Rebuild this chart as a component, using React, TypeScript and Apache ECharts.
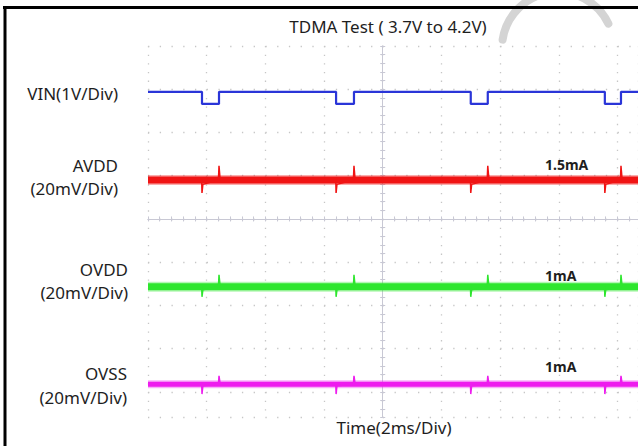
import React, { useEffect, useRef } from "react";
import * as echarts from "echarts";

// ---------- data ----------
const TITLE = "TDMA Test ( 3.7V to 4.2V)";
const X_LABEL = "Time(2ms/Div)";
const VIN_LABEL = "VIN(1V/Div)";

// x in milliseconds (2 ms / division), y in divisions counted from the top graticule line
const timeMinMs = 0;
const timeMaxMs = 16.7;
const timeDivMs = 2;
const divMin = 0;
const divMax = 8.58;
const centerTimeMs = 8;
const centerDiv = 4;

// VIN: TDMA burst pulses (1V/Div)
const vinPulseStartMs = [1.84, 6.41, 11.0, 15.57];
const vinPulseEndMs = [2.42, 7.02, 11.58, 16.12];
const vinHighDiv = 1.06;
const vinLowDiv = 1.34;

// supply rails (20mV/Div)
const railNames = ["AVDD", "OVDD", "OVSS"];
const railScales = ["(20mV/Div)", "(20mV/Div)", "(20mV/Div)"];
const railCurrents = ["1.5mA", "1mA", "1mA"];
const railBaseDiv = [3.1, 5.57, 7.82];
const railDipDiv = [3.4, 5.8, 8.05]; // spike at burst start (downward)
const railPeakDiv = [2.77, 5.29, 7.63]; // spike at burst end (upward)
const railRecoverDiv = [3.2, 5.64, 7.86]; // level right after the downward spike

// ---------- layout / style ----------
const W = 638;
const H = 446;
const GRID = { left: 148, top: 46, width: 490, height: 371 };
const FONT = "'Noto Sans', sans-serif";
const TEXT = "#1e1e1e";
const railColors = ["#f01414", "#2ee62e", "#ee1cee"];
const railBand = [7, 7, 5];
const railLabelRight = [118, 128, 127];
const railLabelY = [[165, 188], [269, 292], [373, 397]];
const railCurrentY = [164, 275, 366];
const VIN_COLOR = "#2a35d8";
const GRID_DOT = "#c6c6c6";
const AXIS_COLOR = "#c8c8d4";

function buildVin(): number[][] {
  const pts: number[][] = [[timeMinMs, vinHighDiv]];
  vinPulseStartMs.forEach((s, i) => {
    const e = vinPulseEndMs[i];
    pts.push([s, vinHighDiv], [s, vinLowDiv], [e, vinLowDiv], [e, vinHighDiv]);
  });
  pts.push([timeMaxMs, vinHighDiv]);
  return pts;
}

function buildSpikes(r: number): number[][] {
  const base = railBaseDiv[r];
  const pts: number[][] = [[timeMinMs, base]];
  vinPulseStartMs.forEach((s, i) => {
    const e = vinPulseEndMs[i];
    pts.push(
      [s - 0.01, base],
      [s, railDipDiv[r]],
      [s + 0.03, railRecoverDiv[r]],
      [e - 0.02, base],
      [e, railPeakDiv[r]],
      [e + 0.04, base]
    );
  });
  pts.push([timeMaxMs, base]);
  return pts;
}

export default function App() {
  const ref = useRef<HTMLDivElement>(null);

  useEffect(() => {
    document.body.style.margin = "0";
    if (!ref.current) return;
    const chart = echarts.init(ref.current, undefined, { renderer: "svg" });

    const xCenterOffset = -(GRID.height - ((centerDiv - divMin) / (divMax - divMin)) * GRID.height);
    const yCenterOffset = -(((centerTimeMs - timeMinMs) / (timeMaxMs - timeMinMs)) * GRID.width);

    const xCommon = {
      type: "value" as const,
      min: timeMinMs,
      max: timeMaxMs,
      interval: timeDivMs,
      axisLabel: { show: false },
    };
    const yCommon = {
      type: "value" as const,
      min: divMin,
      max: divMax,
      interval: 1,
      inverse: true,
      axisLabel: { show: false },
    };
    const centerLine = {
      axisLine: { show: true, onZero: false, lineStyle: { color: AXIS_COLOR, width: 1 } },
      axisTick: { show: true, length: 2.5, lineStyle: { color: AXIS_COLOR, width: 1 } },
      minorTick: { show: true, splitNumber: 5, length: 2.5, lineStyle: { color: AXIS_COLOR, width: 1 } },
      splitLine: { show: false },
    };

    const series: any[] = [
      {
        type: "line",
        data: buildVin(),
        showSymbol: false,
        symbol: "none",
        lineStyle: { color: VIN_COLOR, width: 2.2 },
        z: 5,
      },
    ];
    railNames.forEach((_, r) => {
      const flat = [
        [timeMinMs, railBaseDiv[r]],
        [timeMaxMs, railBaseDiv[r]],
      ];
      series.push({
        type: "line",
        data: flat,
        showSymbol: false,
        symbol: "none",
        lineStyle: { color: railColors[r], width: railBand[r] + 3, opacity: 0.35 },
        z: 3,
      });
      series.push({
        type: "line",
        data: flat,
        showSymbol: false,
        symbol: "none",
        lineStyle: { color: railColors[r], width: railBand[r] },
        z: 4,
      });
      series.push({
        type: "line",
        data: buildSpikes(r),
        showSymbol: false,
        symbol: "none",
        lineStyle: { color: railColors[r], width: 1.5 },
        z: 4,
      });
    });

    const graphics: any[] = [
      {
        type: "arc",
        shape: { cx: 558, cy: 48, r: 56, startAngle: Math.PI + 0.15, endAngle: 2 * Math.PI - 0.45 },
        style: { stroke: "#d4d4d4", lineWidth: 8, fill: "none", lineCap: "round" },
        z: -1,
      },
      {
        type: "line",
        shape: { x1: 3, y1: 7.5, x2: W, y2: 7.5 },
        style: { stroke: "#000", lineWidth: 3 },
      },
      {
        type: "line",
        shape: { x1: 5, y1: 6, x2: 5, y2: H },
        style: { stroke: "#000", lineWidth: 3 },
      },
      {
        type: "text",
        x: 388,
        y: 26,
        style: { text: TITLE, font: `17px ${FONT}`, fill: TEXT, textAlign: "center", textVerticalAlign: "middle" },
      },
      {
        type: "text",
        x: 118,
        y: 93,
        style: { text: VIN_LABEL, font: `17px ${FONT}`, fill: TEXT, textAlign: "right", textVerticalAlign: "middle" },
      },
      {
        type: "text",
        x: 394,
        y: 427,
        style: { text: X_LABEL, font: `17px ${FONT}`, fill: TEXT, textAlign: "center", textVerticalAlign: "middle" },
      },
    ];
    railNames.forEach((name, r) => {
      graphics.push(
        {
          type: "text",
          x: railLabelRight[r],
          y: railLabelY[r][0],
          style: { text: name, font: `17px ${FONT}`, fill: TEXT, textAlign: "right", textVerticalAlign: "middle" },
        },
        {
          type: "text",
          x: railLabelRight[r],
          y: railLabelY[r][1],
          style: { text: railScales[r], font: `17px ${FONT}`, fill: TEXT, textAlign: "right", textVerticalAlign: "middle" },
        },
        {
          type: "text",
          x: 545,
          y: railCurrentY[r],
          z: 10,
          style: { text: railCurrents[r], font: `bold 14px ${FONT}`, fill: TEXT, textAlign: "left", textVerticalAlign: "middle" },
        }
      );
    });

    chart.setOption({
      animation: false,
      backgroundColor: "#ffffff",
      grid: { ...GRID, containLabel: false, show: false },
      xAxis: [
        {
          ...xCommon,
          position: "bottom",
          axisLine: { show: false, onZero: false },
          axisTick: { show: false },
          splitLine: {
            show: true,
            lineStyle: { color: GRID_DOT, width: 1.3, type: [1.3, 7.35] },
          },
        },
        { ...xCommon, position: "bottom", offset: xCenterOffset, ...centerLine },
        {
          ...xCommon,
          position: "bottom",
          offset: xCenterOffset,
          ...centerLine,
          axisTick: { ...centerLine.axisTick, inside: true },
        },
      ],
      yAxis: [
        {
          ...yCommon,
          position: "left",
          axisLine: { show: false, onZero: false },
          axisTick: { show: false },
          splitLine: {
            show: true,
            lineStyle: { color: GRID_DOT, width: 1.3, type: [1.3, 10.44] },
          },
        },
        { ...yCommon, position: "left", offset: yCenterOffset, ...centerLine },
        {
          ...yCommon,
          position: "left",
          offset: yCenterOffset,
          ...centerLine,
          axisTick: { ...centerLine.axisTick, inside: true },
        },
      ],
      series,
      graphic: graphics,
    });

    return () => chart.dispose();
  }, []);

  return <div ref={ref} style={{ width: W, height: H }} />;
}
